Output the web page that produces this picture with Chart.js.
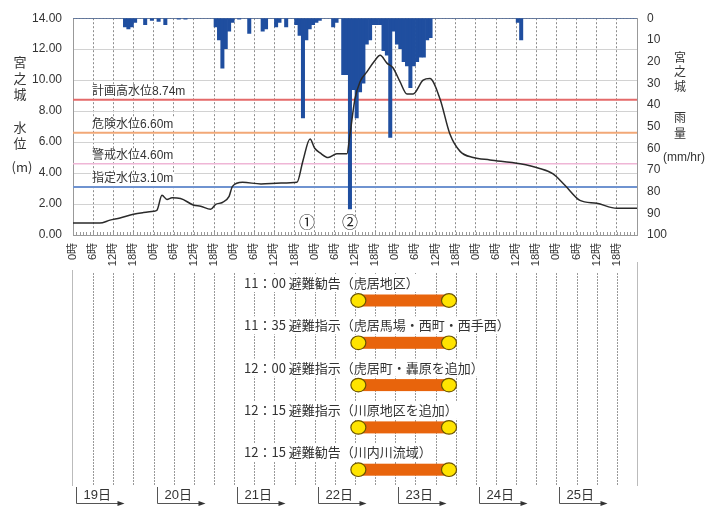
<!DOCTYPE html>
<html lang="ja">
<head>
<meta charset="utf-8">
<title>宮之城 水位・雨量</title>
<script src="https://cdn.jsdelivr.net/npm/chart.js@4.4.0/dist/chart.umd.min.js"></script>
<style>
  html, body { margin: 0; padding: 0; background: #fff; }
  #wrap { width: 722px; height: 506px; }
</style>
</head>
<body>
<div id="wrap"><canvas id="chart" width="722" height="506"></canvas></div>
<script>
// x axis is hours since 19日 0時
const days = ["19日", "20日", "21日", "22日", "23日", "24日", "25日"];

// 宮之城 水位 (m)
const levelHours = [0, 8, 11, 14, 18, 21, 24, 25, 26.5, 28,
  29.5, 32, 36, 38, 41, 42.5, 44.5, 46.5, 47.5, 50.5,
  56, 62, 66.7, 68.5, 70.6, 72, 73.6, 76, 78.6, 81.6,
  82.5, 84, 85.5, 87.6, 89.7, 91.5, 93.5, 95.3, 97.4, 99.5,
  101.3, 104.3, 106.3, 109.3, 112.3, 115.3, 119.2, 124.2, 133.2, 139,
  143, 146.6, 151, 156, 162, 168];
const waterLevel = [0.77, 0.77, 0.96, 1.1, 1.34, 1.45, 1.53, 1.6, 2.56, 2.3,
  2.4, 2.36, 1.92, 1.86, 1.66, 1.98, 2.1, 2.5, 3.14, 3.4,
  3.3, 3.35, 3.4, 4.8, 6.2, 5.6, 5.3, 5.0, 5.25, 5.25,
  6.5, 8.8, 9.9, 10.55, 11.2, 11.6, 11.1, 10.8, 9.9, 9.1,
  9.1, 10.0, 10.1, 8.8, 6.5, 5.4, 5.0, 4.85, 4.6, 4.3,
  3.95, 3.2, 2.24, 2.05, 1.72, 1.72];

// 宮之城 雨量 (mm/hr), hourly from 19日 0時
const rainfall = [
  0, 0, 0, 0, 0, 0, 0, 0, 0, 0, 0, 0, 0, 0, 0, 4, 5, 4, 2, 0, 0, 3, 0, 1,          // 19日
  0, 1.5, 0, 3, 0, 0, 0, 0.5, 0, 0.5, 0, 0, 0, 0, 0, 0, 0, 0, 4, 10, 23, 14, 6, 2, // 20日
  0, 0.5, 0, 0, 7, 0, 0, 0, 6, 5, 0, 0, 4, 2, 0, 4, 0, 0, 3, 8, 46, 10, 5, 3,     // 21日
  2, 1, 0, 0, 0, 4, 2, 0, 26, 26, 88, 33, 46, 34, 30, 12, 10, 3, 3, 3, 15, 17, 55, 6, // 22日
  12, 14, 20, 22, 32, 22, 20, 18, 18, 10, 9, 0, 0, 0, 0, 0, 0, 0, 0, 0, 0, 0, 0, 0, // 23日
  0, 0, 0, 0, 0, 0, 0, 0, 0, 0, 0, 0, 2, 10, 0, 0, 0, 0, 0, 0, 0, 0, 0, 0,         // 24日
  0, 0, 0, 0, 0, 0, 0, 0, 0, 0, 0, 0, 0, 0, 0, 0, 0, 0, 0, 0, 0, 0, 0, 0          // 25日
];

// reference water levels
const thresholdNames = ["計画高水位", "危険水位", "警戒水位", "指定水位"];
const thresholdValues = [8.74, 6.60, 4.60, 3.10];
const thresholdColors = ["#e46a6a", "#f2a877", "#efb6d6", "#6f93d0"];

// evacuation notices (start / end in hours)
const notices = [
  "11：00 避難勧告（虎居地区）",
  "11：35 避難指示（虎居馬場・西町・西手西）",
  "12：00 避難指示（虎居町・轟原を追加）",
  "12：15 避難指示（川原地区を追加）",
  "12：15 避難勧告（川内川流域）"
];
const noticeStart = [85, 85, 85, 85, 85];
const noticeEnd = [112, 112, 112, 112, 112];

// event markers ① ②
const markerHours = [69.7, 82.5];
const markerLabels = ["①", "②"];

const FONT = '"Liberation Sans", "Noto Sans CJK JP", sans-serif';
const FONT_JP = '"Noto Sans CJK JP", sans-serif';

// labels above the reference lines
const thresholdLabels = {
  id: "thresholdLabels",
  beforeDatasetsDraw(chart) {
    const { ctx, scales: { y }, chartArea } = chart;
    ctx.save();
    ctx.font = "12px " + FONT;
    ctx.textBaseline = "middle";
    thresholdValues.forEach((v, i) => {
      const text = thresholdNames[i] + v.toFixed(2) + "m";
      const yy = y.getPixelForValue(v) - 8;
      const w = ctx.measureText(text).width;
      ctx.fillStyle = "#fff";
      ctx.fillRect(chartArea.left + 18, yy - 7, w + 2, 13);
      ctx.fillStyle = "#333";
      ctx.fillText(text, chartArea.left + 19, yy);
    });
    ctx.restore();
  }
};

// hourly minor ticks and ①②
const plotExtras = {
  id: "plotExtras",
  afterDatasetsDraw(chart) {
    const { ctx, scales: { x }, chartArea } = chart;
    ctx.save();
    ctx.fillStyle = "#999";
    for (let h = 1; h < 168; h++) {
      const px = Math.round(x.getPixelForValue(h));
      ctx.fillRect(px, chartArea.bottom - 3, 1, 3);
    }

    ctx.font = "16px " + FONT_JP;
    ctx.textAlign = "center";
    ctx.textBaseline = "middle";
    markerHours.forEach((h, i) => {
      const px = x.getPixelForValue(h);
      ctx.fillStyle = "#fff";
      ctx.beginPath();
      ctx.arc(px, 222, 8, 0, Math.PI * 2);
      ctx.fill();
      ctx.fillStyle = "#222";
      ctx.fillText(markerLabels[i], px, 222);
    });
    ctx.restore();
  }
};

// dotted 6h guide lines under the notice panel
const panelGuides = {
  id: "panelGuides",
  afterDraw(chart) {
    const ctx = chart.ctx;
    const xs = chart.scales.x;
    ctx.save();
    ctx.fillStyle = "#bbb";
    ctx.fillRect(Math.round(xs.left) - 1, 270, 1, 216);
    ctx.fillRect(Math.round(xs.right), 262, 1, 224);
    ctx.fillStyle = "#999";
    for (let h = 6; h < 168; h += 6) {
      const px = Math.round(xs.getPixelForValue(h));
      for (let py = 273; py < 486; py += 3) {
        ctx.fillRect(px, py, 1, 2);
      }
    }
    ctx.restore();
  }
};

// axis titles, notices and day brackets
const panel = {
  id: "panel",
  afterDraw(chart) {
    const { ctx, scales: { x } } = chart;
    ctx.save();
    ctx.fillStyle = "#333";
    ctx.textAlign = "center";
    ctx.textBaseline = "middle";

    // axis titles
    ctx.font = "13px " + FONT_JP;
    [["宮", 62], ["之", 78], ["城", 94], ["水", 127], ["位", 143]].forEach(([c, yy]) => ctx.fillText(c, 20, yy));
    ctx.fillText("(m)", 22, 167);
    ctx.font = "12px " + FONT_JP;
    [["宮", 57], ["之", 71], ["城", 86], ["雨", 117], ["量", 133]].forEach(([c, yy]) => ctx.fillText(c, 680, yy));
    ctx.font = "12px " + FONT;
    ctx.fillText("(mm/hr)", 684, 158);

    // notices
    ctx.textAlign = "left";
    notices.forEach((t, i) => {
      const ty = 283 + i * 42.3;
      const by = ty + 17.5;
      ctx.font = "13px " + FONT_JP;
      const w = ctx.measureText(t).width;
      ctx.fillStyle = "#fff";
      ctx.fillRect(242, ty - 9, w + 4, 18);
      ctx.fillStyle = "#333";
      ctx.fillText(t, 244, ty);

      const x0 = x.getPixelForValue(noticeStart[i]);
      const x1 = x.getPixelForValue(noticeEnd[i]);
      ctx.fillStyle = "#e8640c";
      ctx.fillRect(x0, by - 6, x1 - x0, 12);
      [x0, x1].forEach(cx => {
        ctx.beginPath();
        ctx.ellipse(cx, by, 7.5, 6.8, 0, 0, Math.PI * 2);
        ctx.fillStyle = "#ffe400";
        ctx.fill();
        ctx.lineWidth = 1.2;
        ctx.strokeStyle = "#6b5400";
        ctx.stroke();
      });
    });

    // day brackets
    ctx.font = "13px " + FONT;
    days.forEach((d, i) => {
      const x0 = Math.round(x.getPixelForValue(i * 24)) + 3.5;
      ctx.strokeStyle = "#555";
      ctx.lineWidth = 1;
      ctx.beginPath();
      ctx.moveTo(x0, 487);
      ctx.lineTo(x0, 503.5);
      ctx.lineTo(x0 + 42, 503.5);
      ctx.stroke();
      ctx.fillStyle = "#333";
      ctx.beginPath();
      ctx.moveTo(x0 + 48, 503.5);
      ctx.lineTo(x0 + 41, 501);
      ctx.lineTo(x0 + 41, 506);
      ctx.closePath();
      ctx.fill();
      ctx.fillText(d, x0 + 7, 495);
    });
    ctx.restore();
  }
};

const datasets = [
  {
    type: "line",
    label: "水位",
    data: levelHours.map((h, i) => ({ x: h, y: waterLevel[i] })),
    yAxisID: "y",
    borderColor: "#2a2a2a",
    borderWidth: 1.5,
    pointRadius: 0,
    cubicInterpolationMode: "monotone",
    order: 0
  },
  {
    type: "bar",
    label: "雨量",
    data: rainfall.map((v, i) => ({ x: i + 0.5, y: v })),
    yAxisID: "y2",
    backgroundColor: "#1f4e9f",
    borderWidth: 0,
    barPercentage: 1,
    categoryPercentage: 1,
    order: 1
  }
];
thresholdValues.forEach((v, i) => {
  datasets.push({
    type: "line",
    label: thresholdNames[i],
    data: [{ x: 0, y: v }, { x: 168, y: v }],
    yAxisID: "y",
    borderColor: thresholdColors[i],
    borderWidth: i === 2 ? 1.5 : 2,
    pointRadius: 0,
    order: 2
  });
});

new Chart(document.getElementById("chart").getContext("2d"), {
  type: "line",
  data: { datasets },
  options: {
    responsive: false,
    animation: false,
    layout: { padding: { left: 0, right: 0, top: 16, bottom: 235 } },
    plugins: { legend: { display: false }, tooltip: { enabled: false } },
    scales: {
      x: {
        type: "linear",
        min: 0,
        max: 168,
        offset: false,
        ticks: {
          stepSize: 6,
          autoSkip: false,
          minRotation: 90,
          maxRotation: 90,
          padding: 8,
          color: "#333",
          font: { size: 11, family: FONT },
          callback: v => (v >= 168 ? "" : (v % 24) + "時")
        },
        grid: { color: "#8c8c8c", drawTicks: false, offset: false },
        border: { color: "#999", dash: [2, 2] },
        afterFit: s => { s.height = 36; }
      },
      y: {
        position: "left",
        min: 0,
        max: 14,
        ticks: {
          stepSize: 2,
          padding: 11,
          color: "#333",
          font: { size: 12, family: FONT },
          callback: v => v.toFixed(2)
        },
        grid: { color: c => (c.tick && c.tick.value === 14 ? "#999" : "#d2d2d2"), drawTicks: false },
        border: { color: "#999" },
        afterFit: s => { s.width = 73; }
      },
      y2: {
        position: "right",
        reverse: true,
        min: 0,
        max: 100,
        ticks: { stepSize: 10, padding: 10, color: "#333", font: { size: 12, family: FONT } },
        grid: { display: false, drawTicks: false },
        border: { color: "#999" },
        afterFit: s => { s.width = 85; }
      }
    }
  },
  plugins: [thresholdLabels, plotExtras, panelGuides, panel]
});
</script>
</body>
</html>
